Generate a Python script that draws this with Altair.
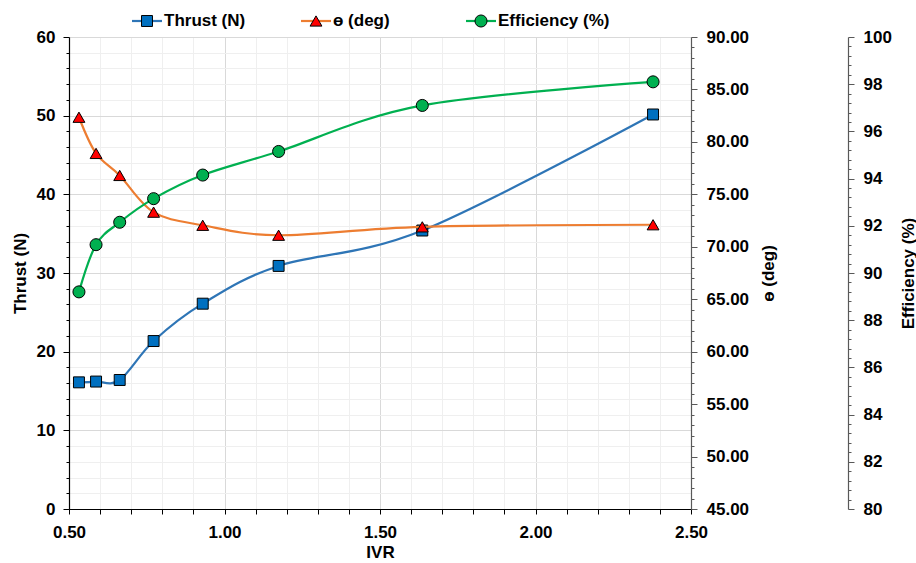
import altair as alt
import pandas as pd

# ---- data ----
ivr = [0.532, 0.587, 0.663, 0.772, 0.930, 1.174, 1.636, 2.378]
thrust = [16.1, 16.2, 16.4, 21.35, 26.1, 30.9, 35.4, 50.15]
theta = [82.35, 78.9, 76.8, 73.3, 72.05, 71.1, 71.9, 72.1]
efficiency = [89.2, 91.2, 92.15, 93.15, 94.15, 95.15, 97.1, 98.1]

series_names = ["Thrust (N)", "\u0275 (deg)", "Efficiency (%)"]

x_ticks = [round(0.5 + 0.1 * i, 1) for i in range(21)]
thrust_ticks = list(range(0, 61, 2))
theta_ticks = list(range(45, 91))
eff_ticks = [round(80 + 0.4 * i, 1) for i in range(51)]

df = pd.DataFrame({"ivr": ivr, "thrust": thrust, "theta": theta, "eff": efficiency})

FONT = "Liberation Sans"
BLUE_LINE = "#2E75B6"
BLUE_FILL = "#0070C0"
ORANGE = "#ED7D31"
RED = "#FF0000"
GREEN = "#00B050"

W, H = 622, 472
PAD = {"left": 69, "top": 37, "right": 916 - 69 - W, "bottom": 563 - 37 - H}

common_axis = dict(
    labelFont=FONT, labelFontSize=17, labelFontWeight="bold", labelColor="black",
    titleFont=FONT, titleFontSize=17, titleFontWeight="bold", titleColor="black",
    labelOverlap=False,
)

x_is_major = "abs(datum.value*2 - round(datum.value*2)) < 0.001"
x_enc = alt.X(
    "ivr:Q",
    scale=alt.Scale(domain=[0.5, 2.5], nice=False, zero=False),
    axis=alt.Axis(
        values=x_ticks,
        labelExpr=f"{x_is_major} ? format(datum.value, '.2f') : ''",
        title="IVR",
        grid=True,
        gridColor={"condition": {"test": x_is_major, "value": "#d9d9d9"}, "value": "#efefef"},
        gridWidth=1,
        domainColor="black", domainWidth=1.2,
        tickColor="black", tickSize=5,
        labelPadding=10, titlePadding=4, labelFlush=False,
        **common_axis,
    ),
)

th_major = "datum.value % 10 == 0"
y_thrust = alt.Y(
    "thrust:Q",
    scale=alt.Scale(domain=[0, 60], nice=False, zero=False),
    axis=alt.Axis(
        values=thrust_ticks,
        labelExpr=f"{th_major} ? format(datum.value, 'd') : ''",
        title="Thrust (N)",
        grid=True,
        gridColor={"condition": {"test": th_major, "value": "#d9d9d9"}, "value": "#efefef"},
        domainColor="black", domainWidth=1.2,
        tickColor="black",
        tickSize={"condition": {"test": th_major, "value": 6}, "value": 3},
        labelPadding=8, titlePadding=7,
        **common_axis,
    ),
)

ang_major = "datum.value % 5 == 0"
y_theta = alt.Y(
    "theta:Q",
    scale=alt.Scale(domain=[45, 90], nice=False, zero=False),
    axis=alt.Axis(
        orient="right",
        values=theta_ticks,
        labelExpr=f"{ang_major} ? format(datum.value, '.2f') : ''",
        title=series_names[1],
        titleAngle=270,
        titleAlign="center",
        titleBaseline="middle",
        titleX=77,
        titleY=H / 2,
        grid=False,
        domainColor="#595959", domainWidth=1.2,
        tickColor="#595959",
        tickSize={"condition": {"test": ang_major, "value": 6}, "value": 3},
        labelPadding=9,
        **common_axis,
    ),
)

eff_major = "abs(datum.value/2 - round(datum.value/2)) < 0.001"
y_eff = alt.Y(
    "eff:Q",
    scale=alt.Scale(domain=[80, 100], nice=False, zero=False),
    axis=alt.Axis(
        orient="right",
        offset=157,
        values=eff_ticks,
        labelExpr=f"{eff_major} ? format(datum.value, 'd') : ''",
        title=series_names[2],
        titleAngle=270,
        titleAlign="center",
        titleBaseline="middle",
        titleX=60,
        titleY=H / 2,
        grid=False,
        domainColor="#595959", domainWidth=1.2,
        tickColor="#595959",
        tickSize={"condition": {"test": eff_major, "value": 6}, "value": 3},
        labelPadding=9,
        **common_axis,
    ),
)

base = alt.Chart(df)


def series_layer(y_enc, line_color, shape, fill, size):
    line = base.mark_line(interpolate="cardinal", color=line_color, strokeWidth=2.2).encode(
        x=x_enc, y=y_enc
    )
    pts = base.mark_point(
        shape=shape, filled=True, size=size, fill=fill, stroke="black",
        strokeWidth=1, opacity=1,
    ).encode(x=x_enc, y=y_enc)
    return alt.layer(line, pts)


thrust_layer = series_layer(y_thrust, BLUE_LINE, "square", BLUE_FILL, 120)
theta_layer = series_layer(y_theta, ORANGE, "triangle-up", RED, 140)
eff_layer = series_layer(y_eff, GREEN, "circle", GREEN, 145)


def legend_item(name, line_color, shape, fill, size, x0):
    one = alt.Chart(pd.DataFrame({"label": [name]}))
    ly = -16
    rule = one.mark_rule(color=line_color, strokeWidth=2.2).encode(
        x=alt.value(x0), x2=alt.value(x0 + 30), y=alt.value(ly)
    )
    pt = one.mark_point(
        shape=shape, filled=True, size=size, fill=fill, stroke="black",
        strokeWidth=1, opacity=1,
    ).encode(x=alt.value(x0 + 15), y=alt.value(ly))
    txt = one.mark_text(
        align="left", baseline="middle", font=FONT, fontSize=17, fontWeight="bold",
        color="black",
    ).encode(text="label:N", x=alt.value(x0 + 32), y=alt.value(ly))
    return [rule, pt, txt]


legend_layers = (
    legend_item(series_names[0], BLUE_LINE, "square", BLUE_FILL, 120, 63)
    + legend_item(series_names[1], ORANGE, "triangle-up", RED, 140, 232)
    + legend_item(series_names[2], GREEN, "circle", GREEN, 145, 397)
)

chart = (
    alt.layer(thrust_layer, theta_layer, eff_layer, *legend_layers)
    .resolve_scale(y="independent")
    .properties(
        width=W, height=H,
        autosize=alt.AutoSizeParams(type="none"),
        padding=PAD,
        background="white",
    )
    .configure_view(stroke=None)
)

chart.save("out.html", embed_options={"renderer": "svg", "actions": False})
